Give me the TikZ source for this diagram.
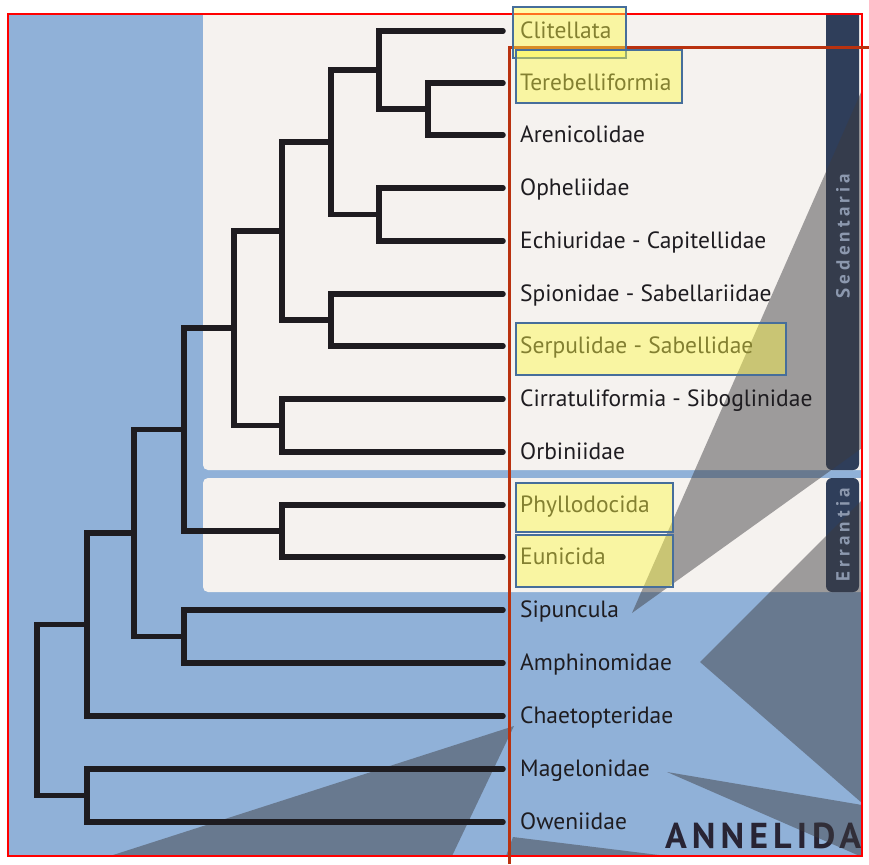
\documentclass[tikz,border=0pt]{standalone}
\usepackage{fontspec}
\setmainfont{PT Sans}
\newfontfamily\barfont[LetterSpace=22]{PT Sans}
\newfontfamily\clubfont[LetterSpace=14]{PT Sans}
\definecolor{skyblue}{RGB}{144,177,216}
\definecolor{paper}{RGB}{245,242,239}
\definecolor{navy}{RGB}{47,62,90}
\definecolor{ink}{RGB}{30,28,32}
\definecolor{shadow}{RGB}{60,58,62}
\definecolor{hiyellow}{RGB}{255,250,70}
\definecolor{boxblue}{RGB}{70,110,155}
\definecolor{annored}{RGB}{255,0,0}
\definecolor{rustred}{RGB}{185,50,15}
\definecolor{barink}{RGB}{140,152,174}
\definecolor{titleink}{RGB}{40,36,52}

\begin{document}
\begin{tikzpicture}[x=1pt, y=-1pt,
  branch/.style={ink, line width=5.5pt, line cap=round, line join=miter},
  tip/.style={branch, shorten >=17pt},
  taxon/.style={anchor=west, ink, inner sep=0pt, text height=18pt, text depth=3pt,
    font=\fontsize{23.5}{26}\selectfont},
  shade/.style={shadow, fill opacity=0.47},
  barlabel/.style={barink, rotate=90, font=\barfont\bfseries\fontsize{19}{20}\selectfont},
  hilite/.style={draw=boxblue, line width=2pt, fill=hiyellow, fill opacity=0.45}]
  \useasboundingbox (0,0) rectangle (869,864);

  % backdrop, clade panels and side bars
  \begin{scope}
    \clip (8,14) rectangle (862,856);
    \fill[skyblue] (8,14) rectangle (862,856);
    \fill[paper, rounded corners=5pt] (203,4) rectangle (870,470);
    \fill[paper, rounded corners=5pt] (203,478) rectangle (870,592);
    \fill[navy, rounded corners=6pt] (826,4) rectangle (859,470);
    \fill[navy, rounded corners=6pt] (826,478) rectangle (859,592);
    \node[titleink, anchor=base west, inner sep=0pt, font=\clubfont\bfseries\fontsize{36}{38}\selectfont]
      (title) at (665,848) {ANNELIDA};
    % shadow wedges
    \fill[shade] (632,613) -- (862,90) -- (862,448) -- cycle;
    \fill[shade] (700,662) -- (862,500) -- (862,803) -- cycle;
    \fill[shade] (667,772) -- (862,805) -- (862,857) -- cycle;
    \fill[shade] (514,726) -- (110,856) -- (452,856) -- cycle;
    \fill[shade] (513,837) -- (667,856) -- (506,856) -- cycle;
    \node[barlabel] (sedlab) at (843,236) {Sedentaria};
    \node[barlabel] (errlab) at (843,535) {Errantia};
  \end{scope}

  % leaves
  \node[taxon] (clit) at (520,31)  {Clitellata};
  \node[taxon] (tere) at (520,83)  {Terebelliformia};
  \node[taxon] (aren) at (520,135) {Arenicolidae};
  \node[taxon] (ophe) at (520,188) {Opheliidae};
  \node[taxon] (echi) at (520,241) {Echiuridae - Capitellidae};
  \node[taxon] (spio) at (520,294) {Spionidae - Sabellariidae};
  \node[taxon] (serp) at (520,346) {Serpulidae - Sabellidae};
  \node[taxon] (cirr) at (520,399) {Cirratuliformia - Siboglinidae};
  \node[taxon] (orbi) at (520,452) {Orbiniidae};
  \node[taxon] (phyl) at (520,505) {Phyllodocida};
  \node[taxon] (euni) at (520,557) {Eunicida};
  \node[taxon] (sipu) at (520,610) {Sipuncula};
  \node[taxon] (amph) at (520,663) {Amphinomidae};
  \node[taxon] (chae) at (520,716) {Chaetopteridae};
  \node[taxon] (mage) at (520,769) {Magelonidae};
  \node[taxon] (owen) at (520,822) {Oweniidae};

  % internal nodes
  \coordinate (ta)   at (428,109);
  \coordinate (cta)  at (379,70);
  \coordinate (oe)   at (379,214.5);
  \coordinate (ctoe) at (331,142);
  \coordinate (ss)   at (331,320);
  \coordinate (grpa) at (282,231);
  \coordinate (co)   at (282,425.5);
  \coordinate (sed)  at (234,328);
  \coordinate (err)  at (282,531);
  \coordinate (ple)  at (184,429.5);
  \coordinate (sa)   at (184,636.5);
  \coordinate (grpb) at (134,533);
  \coordinate (grpc) at (87,624.5);
  \coordinate (mo)   at (87,795.5);
  \coordinate (root) at (37,710);

  % tree
  \draw[tip] (ta) |- (tere.west);
  \draw[tip] (ta) |- (aren.west);
  \draw[tip] (cta) |- (clit.west);
  \draw[branch] (cta) |- (ta);
  \draw[tip] (oe) |- (ophe.west);
  \draw[tip] (oe) |- (echi.west);
  \draw[branch] (ctoe) |- (cta);
  \draw[branch] (ctoe) |- (oe);
  \draw[tip] (ss) |- (spio.west);
  \draw[tip] (ss) |- (serp.west);
  \draw[branch] (grpa) |- (ctoe);
  \draw[branch] (grpa) |- (ss);
  \draw[tip] (co) |- (cirr.west);
  \draw[tip] (co) |- (orbi.west);
  \draw[branch] (sed) |- (grpa);
  \draw[branch] (sed) |- (co);
  \draw[tip] (err) |- (phyl.west);
  \draw[tip] (err) |- (euni.west);
  \draw[branch] (ple) |- (sed);
  \draw[branch] (ple) |- (err);
  \draw[tip] (sa) |- (sipu.west);
  \draw[tip] (sa) |- (amph.west);
  \draw[branch] (grpb) |- (ple);
  \draw[branch] (grpb) |- (sa);
  \draw[branch] (grpc) |- (grpb);
  \draw[tip] (grpc) |- (chae.west);
  \draw[tip] (mo) |- (mage.west);
  \draw[tip] (mo) |- (owen.west);
  \draw[branch] (root) |- (grpc);
  \draw[branch] (root) |- (mo);

  % annotations
  \draw[annored, line width=2.5pt] (8,14) rectangle (862,856);
  \draw[rustred, line width=3pt] (509,864) -- (509,48) -- (869,48);
  \draw[hilite] (513,7) rectangle (626,58);
  \draw[hilite] (516,50) rectangle (682,103);
  \draw[hilite] (516,323) rectangle (786,375);
  \draw[hilite] (516,483) rectangle (673,532);
  \draw[hilite] (516,535) rectangle (673,587);
\end{tikzpicture}
\end{document}
